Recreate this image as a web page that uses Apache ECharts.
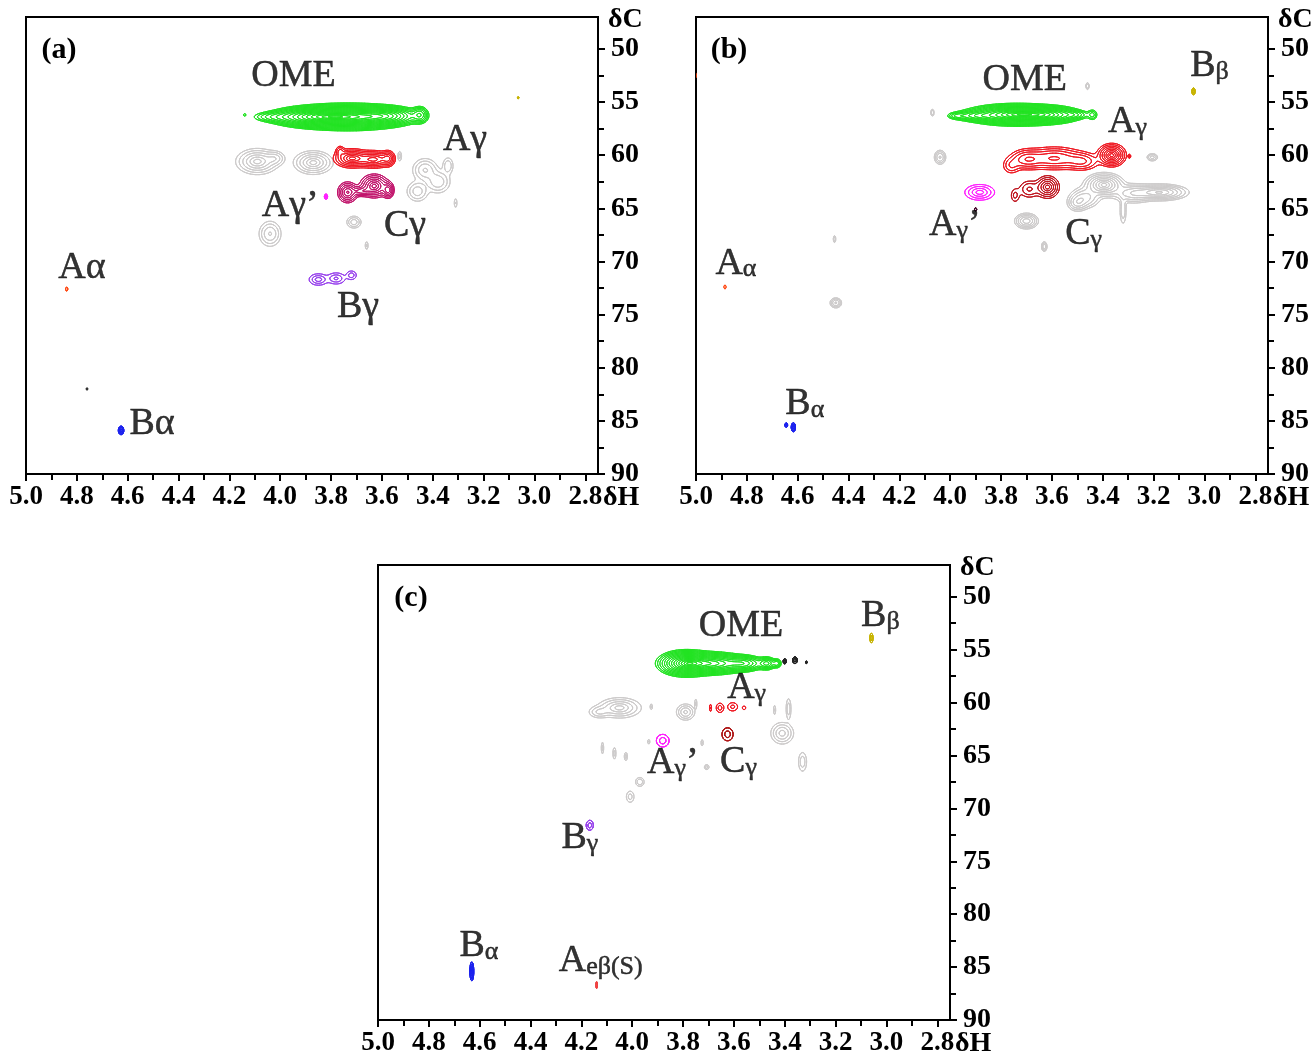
<!DOCTYPE html>
<html>
<head>
<meta charset="utf-8">
<title>HSQC side-chain region</title>
<script src="https://cdn.jsdelivr.net/npm/echarts@6/dist/echarts.min.js"></script>
<style>
  html, body { margin: 0; padding: 0; background: #ffffff; }
  #chart { width: 1313px; height: 1059px; }
</style>
</head>
<body>
<div id="chart"></div>
<script>
// ---- axes ----
const hRange = [2.75, 5.0];
const cRange = [47, 90];
const hMajorTicks = [5.0, 4.8, 4.6, 4.4, 4.2, 4.0, 3.8, 3.6, 3.4, 3.2, 3.0, 2.8];
const hMinorTicks = [4.9, 4.7, 4.5, 4.3, 4.1, 3.9, 3.7, 3.5, 3.3, 3.1, 2.9];
const cMajorTicks = [50, 55, 60, 65, 70, 75, 80, 85, 90];
const cMinorTicks = [52.5, 57.5, 62.5, 67.5, 72.5, 77.5, 82.5, 87.5];
const panelTags = ['(a)', '(b)', '(c)'];

// ---- cross peaks: [assignment, δH, δC, σH, σC, relative intensity] ----
const peaksA = [
  ['other', 4.09, 60.6, 0.038, 0.55, 1.00],
  ['other', 4.02, 60.3, 0.020, 0.35, 0.40],
  ['other', 3.87, 60.7, 0.035, 0.50, 1.00],
  ['other', 3.43, 61.4, 0.025, 0.55, 0.55],
  ['other', 3.38, 62.5, 0.025, 0.55, 0.50],
  ['other', 3.46, 63.4, 0.022, 0.50, 0.45],
  ['other', 3.34, 61.0, 0.012, 0.45, 0.30],
  ['other', 4.04, 67.4, 0.022, 0.60, 0.55],
  ['other', 3.71, 66.3, 0.015, 0.30, 0.45],
  ['other', 3.66, 68.5, 0.004, 0.25, 0.20],
  ['other', 3.53, 60.1, 0.005, 0.30, 0.22],
  ['other', 3.31, 64.5, 0.004, 0.30, 0.18],
  ['OME', 3.73, 56.4, 0.110, 0.55, 1.00],
  ['OME', 3.88, 56.4, 0.080, 0.45, 0.55],
  ['OME', 3.58, 56.3, 0.060, 0.42, 0.40],
  ['OME', 3.45, 56.2, 0.018, 0.45, 0.22],
  ['OME', 4.03, 56.4, 0.050, 0.28, 0.12],
  ['OME', 4.14, 56.2, 0.006, 0.15, 0.06],
  ['Aγ', 3.72, 60.3, 0.035, 0.45, 1.00],
  ['Aγ', 3.63, 60.4, 0.035, 0.42, 0.90],
  ['Aγ', 3.575, 60.3, 0.014, 0.40, 0.55],
  ['Aγ', 3.765, 59.6, 0.010, 0.30, 0.30],
  ['Cγ', 3.735, 63.5, 0.020, 0.50, 0.85],
  ['Cγ', 3.63, 62.9, 0.028, 0.55, 1.00],
  ['Cγ', 3.575, 63.3, 0.012, 0.40, 0.70],
  ['Cγ', 3.68, 63.4, 0.020, 0.25, 0.50],
  ["Aγ'", 3.82, 63.9, 0.004, 0.15, 1.00],
  ['Bγ', 3.85, 71.7, 0.020, 0.30, 1.00],
  ['Bγ', 3.78, 71.6, 0.020, 0.30, 0.90],
  ['Bγ', 3.72, 71.3, 0.012, 0.25, 0.70],
  ['Aα', 4.84, 72.6, 0.003, 0.12, 1.00],
  ['Bα', 4.626, 85.9, 0.006, 0.22, 1.00],
  ['Bβ', 3.064, 54.6, 0.002, 0.06, 1.00],
  ['noise', 4.76, 82.0, 0.002, 0.06, 1.00]
];

const peaksB = [
  ['other', 3.395, 62.8, 0.035, 0.50, 1.00],
  ['other', 3.175, 63.5, 0.050, 0.35, 0.85],
  ['other', 3.28, 63.6, 0.040, 0.45, 0.45],
  ['other', 3.47, 64.0, 0.030, 0.50, 0.40],
  ['other', 3.50, 64.5, 0.020, 0.40, 0.35],
  ['other', 3.32, 65.2, 0.008, 0.80, 0.18],
  ['other', 3.70, 66.2, 0.022, 0.35, 0.60],
  ['other', 3.63, 68.6, 0.006, 0.25, 0.30],
  ['other', 4.04, 60.2, 0.012, 0.35, 0.35],
  ['other', 4.07, 56.0, 0.004, 0.20, 0.20],
  ['other', 3.46, 53.5, 0.004, 0.20, 0.20],
  ['other', 3.205, 60.2, 0.012, 0.20, 0.25],
  ['other', 4.45, 73.9, 0.012, 0.25, 0.35],
  ['other', 4.455, 67.9, 0.003, 0.20, 0.20],
  ['OME', 3.74, 56.2, 0.090, 0.45, 1.00],
  ['OME', 3.61, 56.2, 0.060, 0.38, 0.50],
  ['OME', 3.90, 56.3, 0.050, 0.25, 0.22],
  ['OME', 3.975, 56.3, 0.020, 0.18, 0.10],
  ['OME', 3.44, 56.2, 0.012, 0.32, 0.12],
  ['OME', 3.51, 56.2, 0.030, 0.22, 0.14],
  ['Aγ', 3.365, 60.0, 0.026, 0.50, 1.00],
  ['Aγ', 3.59, 60.3, 0.060, 0.55, 0.55],
  ['Aγ', 3.70, 60.4, 0.035, 0.50, 0.45],
  ['Aγ', 3.48, 60.6, 0.035, 0.45, 0.35],
  ['Aγ', 3.76, 61.0, 0.020, 0.45, 0.22],
  ['Aγ', 3.295, 60.1, 0.003, 0.10, 0.25],
  ['Cγ', 3.617, 63.0, 0.024, 0.55, 1.00],
  ['Cγ', 3.69, 63.2, 0.024, 0.50, 0.45],
  ['Cγ', 3.745, 63.8, 0.012, 0.45, 0.30],
  ["Aγ'", 3.884, 63.5, 0.030, 0.38, 1.00],
  ['Bβ', 3.043, 54.0, 0.004, 0.20, 1.00],
  ['Aα', 4.886, 72.4, 0.003, 0.12, 1.00],
  ['Aα', 5.005, 52.5, 0.004, 0.25, 1.00],
  ['Bα', 4.617, 85.6, 0.005, 0.25, 1.00],
  ['Bα', 4.645, 85.4, 0.004, 0.15, 0.60],
  ['noise', 3.90, 65.1, 0.003, 0.10, 1.00]
];

const peaksC = [
  ['other', 4.05, 60.5, 0.040, 0.45, 1.00],
  ['other', 4.13, 60.9, 0.022, 0.30, 0.45],
  ['other', 3.79, 60.9, 0.018, 0.38, 0.75],
  ['other', 3.41, 62.9, 0.022, 0.50, 0.80],
  ['other', 3.385, 60.6, 0.006, 0.60, 0.35],
  ['other', 3.33, 65.6, 0.010, 0.55, 0.35],
  ['other', 3.925, 60.4, 0.003, 0.18, 0.25],
  ['other', 3.75, 60.1, 0.003, 0.30, 0.25],
  ['other', 3.44, 60.7, 0.003, 0.30, 0.25],
  ['other', 4.117, 64.3, 0.003, 0.35, 0.30],
  ['other', 4.07, 64.8, 0.004, 0.35, 0.30],
  ['other', 4.025, 65.1, 0.004, 0.25, 0.30],
  ['other', 3.935, 63.7, 0.003, 0.15, 0.25],
  ['other', 3.725, 63.8, 0.003, 0.20, 0.25],
  ['other', 3.707, 66.1, 0.006, 0.15, 0.30],
  ['other', 3.97, 67.5, 0.010, 0.25, 0.40],
  ['other', 4.008, 68.9, 0.010, 0.35, 0.30],
  ['OME', 3.79, 56.3, 0.050, 0.55, 1.00],
  ['OME', 3.68, 56.3, 0.060, 0.48, 0.80],
  ['OME', 3.56, 56.3, 0.040, 0.38, 0.45],
  ['OME', 3.47, 56.3, 0.018, 0.32, 0.35],
  ['OME', 3.43, 56.3, 0.010, 0.25, 0.20],
  ['Aγ', 3.692, 60.5, 0.003, 0.25, 0.80],
  ['Aγ', 3.655, 60.5, 0.010, 0.30, 1.00],
  ['Aγ', 3.605, 60.4, 0.014, 0.28, 0.90],
  ['Aγ', 3.56, 60.5, 0.006, 0.15, 0.60],
  ['Cγ', 3.625, 63.0, 0.015, 0.42, 1.00],
  ["Aγ'", 3.88, 63.6, 0.016, 0.38, 1.00],
  ['Bγ', 4.167, 71.6, 0.009, 0.30, 1.00],
  ['Bβ', 3.059, 53.9, 0.004, 0.28, 1.00],
  ['Bα', 4.631, 85.4, 0.004, 0.45, 1.00],
  ['Aeβ(S)', 4.14, 86.7, 0.002, 0.22, 1.00],
  ['noise', 3.40, 56.1, 0.004, 0.15, 1.00],
  ['noise', 3.36, 56.0, 0.006, 0.20, 1.00],
  ['noise', 3.315, 56.2, 0.002, 0.08, 0.80]
];

// ---- peak labels: [main text, small text, trailing text, δH, δC] ----
const labelsA = [
  ['OME', '', '', 3.948, 52.55],
  ['A', 'γ', '', 3.273, 58.6],
  ['A', 'γ', '’', 3.961, 64.8],
  ['C', 'γ', '', 3.509, 66.7],
  ['A', 'α', '', 4.780, 70.6],
  ['B', 'γ', '', 3.694, 74.3],
  ['B', 'α', '', 4.504, 85.3]
];
const labelsB = [
  ['OME', '', '', 3.707, 52.9],
  ['B', 'β', '', 2.980, 51.6],
  ['A', 'γ', '', 3.303, 56.9],
  ['A', 'γ', '’', 3.982, 66.6],
  ['C', 'γ', '', 3.475, 67.4],
  ['A', 'α', '', 4.843, 70.2],
  ['B', 'α', '', 4.572, 83.4]
];
const labelsC = [
  ['OME', '', '', 3.572, 52.8],
  ['B', 'β', '', 3.024, 51.8],
  ['A', 'γ', '', 3.550, 58.6],
  ['A', 'γ', '’', 3.840, 65.7],
  ['C', 'γ', '', 3.582, 65.6],
  ['B', 'γ', '', 4.206, 72.8],
  ['B', 'α', '', 4.603, 83.0],
  ['A', 'eβ(S)', '', 4.124, 84.4]
];

// ---- contour styling per assignment (colour, number of levels, lowest level) ----
const stylesA = {
  other: { colour: '#cdcbcb', levels: 6, floor: 0.08 },
  OME: { colour: '#22e322', levels: 16, floor: 0.05 },
  'Aγ': { colour: '#f01822', levels: 7, floor: 0.12 },
  'Cγ': { colour: '#c2146c', levels: 7, floor: 0.12 },
  "Aγ'": { colour: '#ff22ff', levels: 2, floor: 0.3 },
  'Bγ': { colour: '#9a44ee', levels: 3, floor: 0.2 },
  'Aα': { colour: '#ff4a14', levels: 1, floor: 0.4 },
  'Bα': { colour: '#1c22ee', levels: 3, floor: 0.2 },
  'Bβ': { colour: '#c8b400', levels: 1, floor: 0.4 },
  noise: { colour: '#333333', levels: 1, floor: 0.4 }
};
const stylesB = {
  other: { colour: '#cdcbcb', levels: 8, floor: 0.06 },
  OME: { colour: '#22e322', levels: 14, floor: 0.05 },
  'Aγ': { colour: '#f01822', levels: 8, floor: 0.08 },
  'Cγ': { colour: '#c0141e', levels: 6, floor: 0.15 },
  "Aγ'": { colour: '#ff22ff', levels: 4, floor: 0.15 },
  'Bβ': { colour: '#c8b400', levels: 2, floor: 0.3 },
  'Aα': { colour: '#ff4a14', levels: 1, floor: 0.4 },
  'Bα': { colour: '#1c22ee', levels: 3, floor: 0.25 },
  noise: { colour: '#4a1030', levels: 1, floor: 0.4 }
};
const stylesC = {
  other: { colour: '#cdcbcb', levels: 5, floor: 0.1 },
  OME: { colour: '#22e322', levels: 14, floor: 0.05 },
  'Aγ': { colour: '#f01822', levels: 2, floor: 0.35 },
  'Cγ': { colour: '#b01818', levels: 2, floor: 0.35 },
  "Aγ'": { colour: '#ff22ff', levels: 2, floor: 0.3 },
  'Bγ': { colour: '#9a44ee', levels: 2, floor: 0.3 },
  'Bβ': { colour: '#c8b400', levels: 2, floor: 0.3 },
  'Bα': { colour: '#1c22ee', levels: 4, floor: 0.15 },
  'Aeβ(S)': { colour: '#f04040', levels: 1, floor: 0.4 },
  noise: { colour: '#222222', levels: 2, floor: 0.3 }
};

const serif = '"Liberation Serif", "Times New Roman", serif';

const panels = [
  { grid: { left: 26, top: 17, width: 572, height: 457 }, peaks: peaksA, labels: labelsA, styles: stylesA, small: 38 },
  { grid: { left: 696, top: 17, width: 572, height: 457 }, peaks: peaksB, labels: labelsB, styles: stylesB, small: 26 },
  { grid: { left: 378, top: 565, width: 572, height: 455 }, peaks: peaksC, labels: labelsC, styles: stylesC, small: 26 }
];

// marching-squares edge pairs, corners: tl=8, tr=4, br=2, bl=1; edges: top 0, right 1, bottom 2, left 3
const EDGE_PAIRS = [null, [[3, 2]], [[2, 1]], [[3, 1]], [[0, 1]], [[0, 1], [3, 2]], [[0, 2]], [[3, 0]],
  [[3, 0]], [[0, 2]], [[3, 0], [2, 1]], [[0, 1]], [[3, 1]], [[2, 1]], [[3, 2]], null];

function edgePoint(e, i, j, a, b, c, d, L) {
  if (e === 0) return [i + (L - a) / (b - a), j];
  if (e === 1) return [i + 1, j + (L - b) / (c - b)];
  if (e === 2) return [i + (L - d) / (c - d), j + 1];
  return [i, j + (L - a) / (d - a)];
}

// contour lines of a group of Gaussian cross peaks, traced in pixel space;
// levels are chosen so that the rings of a single peak are evenly spaced
function contourRenderer(panel, groupKeys) {
  return function (params, api) {
    const key = groupKeys[api.value(2)];
    const members = panel.peaks.filter(p => p[0] === key);
    const st = panel.styles[key];
    const o = api.coord([5.0, 50]);
    const e = api.coord([3.0, 90]);
    const hPerPx = (3.0 - 5.0) / (e[0] - o[0]);
    const cPerPx = (90 - 50) / (e[1] - o[1]);
    let x0 = Infinity, x1 = -Infinity, y0 = Infinity, y1 = -Infinity;
    members.forEach(p => {
      const a = api.coord([p[1] + 3.6 * p[3], p[2] - 3.6 * p[4]]);
      const b = api.coord([p[1] - 3.6 * p[3], p[2] + 3.6 * p[4]]);
      x0 = Math.min(x0, a[0], b[0]); x1 = Math.max(x1, a[0], b[0]);
      y0 = Math.min(y0, a[1], b[1]); y1 = Math.max(y1, a[1], b[1]);
    });
    x0 = Math.floor(x0) - 2; x1 = Math.ceil(x1) + 2;
    y0 = Math.floor(y0) - 2; y1 = Math.ceil(y1) + 2;
    const step = (x1 - x0 < 40 && y1 - y0 < 40) ? 0.25 : 0.6;
    const nx = Math.ceil((x1 - x0) / step) + 1;
    const ny = Math.ceil((y1 - y0) / step) + 1;
    const v = new Float64Array(nx * ny);
    let vmax = 0;
    for (let j = 0; j < ny; j++) {
      const c = 50 + (y0 + j * step - o[1]) * cPerPx;
      for (let i = 0; i < nx; i++) {
        const h = 5.0 + (x0 + i * step - o[0]) * hPerPx;
        let s = 0;
        for (let k = 0; k < members.length; k++) {
          const p = members[k];
          const dh = (h - p[1]) / p[3], dc = (c - p[2]) / p[4];
          const q = dh * dh + dc * dc;
          if (q < 40) s += p[5] * Math.exp(-0.5 * q);
        }
        v[j * nx + i] = s;
        if (s > vmax) vmax = s;
      }
    }
    const n = st.levels;
    const r0 = Math.sqrt(-2 * Math.log(st.floor));
    const parts = [];
    for (let l = 0; l < n; l++) {
      const r = r0 * (1 - l / n);
      const L = vmax * Math.exp(-0.5 * r * r);
      for (let j = 0; j < ny - 1; j++) {
        for (let i = 0; i < nx - 1; i++) {
          const a = v[j * nx + i], b = v[j * nx + i + 1];
          const c = v[(j + 1) * nx + i + 1], d = v[(j + 1) * nx + i];
          const idx = (a >= L ? 8 : 0) | (b >= L ? 4 : 0) | (c >= L ? 2 : 0) | (d >= L ? 1 : 0);
          const pairs = EDGE_PAIRS[idx];
          if (!pairs) continue;
          for (const pr of pairs) {
            const p1 = edgePoint(pr[0], i, j, a, b, c, d, L);
            const p2 = edgePoint(pr[1], i, j, a, b, c, d, L);
            parts.push('M' + (x0 + p1[0] * step).toFixed(2) + ' ' + (y0 + p1[1] * step).toFixed(2) +
              'L' + (x0 + p2[0] * step).toFixed(2) + ' ' + (y0 + p2[1] * step).toFixed(2));
          }
        }
      }
    }
    return {
      type: 'path',
      shape: { pathData: parts.join('') },
      style: { fill: 'none', stroke: st.colour, lineWidth: 1, lineCap: 'round', lineJoin: 'round' },
      silent: true
    };
  };
}

const tickFont = { fontFamily: serif, fontWeight: 'bold', fontSize: 27, color: '#000' };

const option = {
  animation: false,
  backgroundColor: '#ffffff',
  grid: [], xAxis: [], yAxis: [], series: [],
  graphic: []
};

panels.forEach((panel, k) => {
  option.grid.push(Object.assign({ show: true, borderColor: '#000', borderWidth: 2, backgroundColor: 'transparent', containLabel: false, outerBoundsMode: 'none' }, panel.grid));
  // major / minor δH axes
  option.xAxis.push({
    gridIndex: k, type: 'value', min: hRange[0], max: hRange[1], inverse: true, position: 'bottom',
    axisLine: { show: true, onZero: false, lineStyle: { color: '#000', width: 2 } },
    axisTick: { show: true, inside: false, length: 7, customValues: hMajorTicks, lineStyle: { color: '#000', width: 2 } },
    axisLabel: Object.assign({ show: true, margin: 10, customValues: hMajorTicks, formatter: v => v.toFixed(1) }, tickFont),
    splitLine: { show: false }
  });
  option.xAxis.push({
    gridIndex: k, type: 'value', min: hRange[0], max: hRange[1], inverse: true, position: 'bottom',
    axisLine: { show: false, onZero: false },
    axisTick: { show: true, inside: false, length: 6, customValues: hMinorTicks, lineStyle: { color: '#000', width: 2 } },
    axisLabel: { show: false },
    splitLine: { show: false }
  });
  // major / minor δC axes
  option.yAxis.push({
    gridIndex: k, type: 'value', min: cRange[0], max: cRange[1], inverse: true, position: 'right',
    axisLine: { show: true, onZero: false, lineStyle: { color: '#000', width: 2 } },
    axisTick: { show: true, inside: false, length: 7, customValues: cMajorTicks, lineStyle: { color: '#000', width: 2 } },
    axisLabel: Object.assign({ show: true, margin: 13, customValues: cMajorTicks, formatter: v => String(v) }, tickFont, { fontSize: 28 }),
    splitLine: { show: false }
  });
  option.yAxis.push({
    gridIndex: k, type: 'value', min: cRange[0], max: cRange[1], inverse: true, position: 'right',
    axisLine: { show: false, onZero: false },
    axisTick: { show: true, inside: false, length: 6, customValues: cMinorTicks, lineStyle: { color: '#000', width: 2 } },
    axisLabel: { show: false },
    splitLine: { show: false }
  });

  const groupKeys = Object.keys(panel.styles).filter(g => panel.peaks.some(p => p[0] === g));
  const groupData = groupKeys.map((g, gi) => {
    const m = panel.peaks.filter(p => p[0] === g);
    const h = m.reduce((s, p) => s + p[1], 0) / m.length;
    const c = m.reduce((s, p) => s + p[2], 0) / m.length;
    return [h, c, gi];
  });
  option.series.push({
    type: 'custom', name: 'contours ' + panelTags[k], xAxisIndex: 2 * k, yAxisIndex: 2 * k,
    clip: true, silent: true, z: 2,
    encode: { x: 0, y: 1 },
    data: groupData,
    renderItem: contourRenderer(panel, groupKeys)
  });

  const labels = panel.labels;
  const ink = { color: '#000', textBorderColor: '#000', textBorderWidth: 0.5 };
  option.series.push({
    type: 'scatter', name: 'labels ' + panelTags[k], xAxisIndex: 2 * k, yAxisIndex: 2 * k,
    symbolSize: 1, silent: true, z: 5,
    itemStyle: { color: 'rgba(0,0,0,0)' },
    data: labels.map(l => [l[3], l[4]]),
    label: Object.assign({
      show: true, position: 'inside', align: 'center', verticalAlign: 'middle',
      formatter: p => {
        const l = labels[p.dataIndex];
        return '{m|' + l[0] + '}' + (l[1] ? '{s|' + l[1] + '}' : '') + (l[2] ? '{m|' + l[2] + '}' : '');
      },
      rich: {
        m: Object.assign({ fontFamily: serif, fontSize: 38, verticalAlign: 'bottom' }, ink),
        s: Object.assign({ fontFamily: serif, fontSize: panel.small, verticalAlign: 'bottom' }, ink)
      }
    }, ink)
  });

  const g = panel.grid;
  const right = g.left + g.width;
  option.graphic.push({
    type: 'text', x: g.left + 33, y: g.top + 33,
    style: { text: panelTags[k], font: 'bold 30px ' + serif, fill: '#000', align: 'center', verticalAlign: 'middle' }
  });
  option.graphic.push({
    type: 'text', x: right + 10, y: g.top + 3,
    style: { text: 'δC', font: 'bold 28px ' + serif, fill: '#000', align: 'left', verticalAlign: 'middle' }
  });
  option.graphic.push({
    type: 'text', x: right + 5, y: g.top + g.height + 24,
    style: { text: 'δH', font: 'bold 28px ' + serif, fill: '#000', align: 'left', verticalAlign: 'middle' }
  });
});

const chart = echarts.init(document.getElementById('chart'), null, { renderer: 'canvas' });
chart.setOption(option);
</script>
</body>
</html>
